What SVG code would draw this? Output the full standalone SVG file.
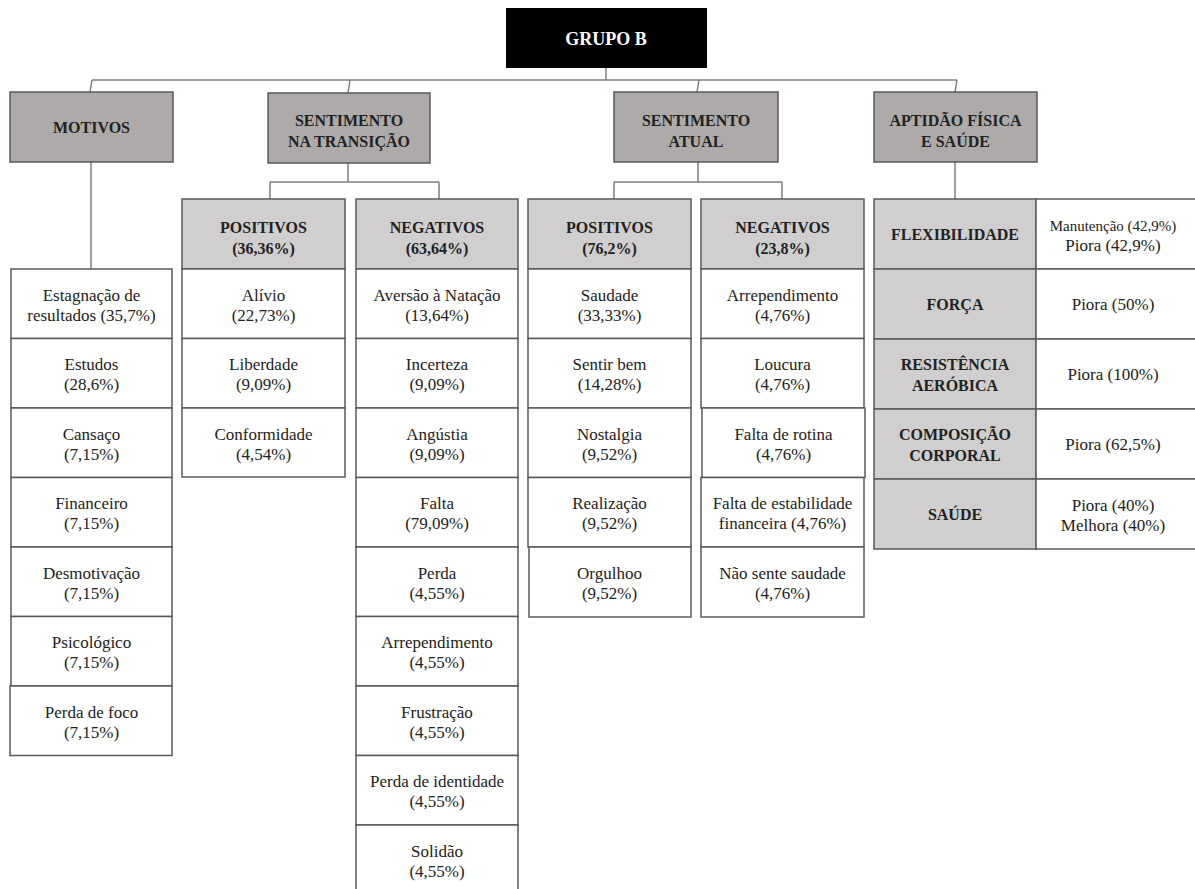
<svg xmlns="http://www.w3.org/2000/svg" width="1195" height="889" viewBox="0 0 1195 889" font-family="'Liberation Serif', 'DejaVu Serif', serif">
<style>
text{font-family:'Liberation Serif','DejaVu Serif',serif;fill:#222;text-anchor:middle}
.h{font-weight:bold;font-size:16px}
.b{font-size:17px}
.s{font-size:15px}
.top{fill:#aeaaaa;stroke:#595959;stroke-width:1.5}
.sub{fill:#d0cece;stroke:#595959;stroke-width:1.5}
.cell{fill:#fff;stroke:#595959;stroke-width:1.5}
.con{fill:none;stroke:#7f7f7f;stroke-width:1.5}
</style>
<rect width="1195" height="889" fill="#fff"/>
<g id="connectors">
<path class="con" d="M606 68V80M92 80H957M92 80L90 92M350 80L348 93M699 80L697 92M957 80L955 92"/>
<path class="con" d="M91 162V269" stroke="#555"/>
<path class="con" d="M348 163V182M270 182H439M270 182V199M439 182V199"/>
<path class="con" d="M698 162V182M614 182H782M614 182V199M782 182V199"/>
<path class="con" d="M955 162V199" stroke="#333"/>
</g>
<g id="grupo-b">
<rect x="506" y="8" width="201" height="60" fill="#000"/>
<text x="606" y="45" style="font-weight:bold;font-size:18px;fill:#fff">GRUPO B</text>
</g>
<g id="motivos">
<rect class="top" x="10" y="92" width="163" height="70"/>
<text class="h" x="91.5" y="133">MOTIVOS</text>
</g>
<g id="sentimento-transicao">
<rect class="top" x="268" y="93" width="162" height="70"/>
<text class="h" x="349" y="126">SENTIMENTO</text>
<text class="h" x="349" y="147">NA TRANSIÇÃO</text>
</g>
<g id="sentimento-atual">
<rect class="top" x="614" y="92" width="164" height="70"/>
<text class="h" x="696" y="126">SENTIMENTO</text>
<text class="h" x="696" y="147">ATUAL</text>
</g>
<g id="aptidao">
<rect class="top" x="874" y="92" width="163" height="70"/>
<text class="h" x="955.5" y="126">APTIDÃO  FÍSICA</text>
<text class="h" x="955.5" y="147">E SAÚDE</text>
</g>
<g id="motivos-lista">
<rect class="cell" x="11" y="269" width="161" height="69.5"/>
<rect class="cell" x="11" y="338.5" width="161" height="69.5"/>
<rect class="cell" x="11" y="408" width="161" height="69.5"/>
<rect class="cell" x="11" y="477.5" width="161" height="69.5"/>
<rect class="cell" x="11" y="547" width="161" height="69.5"/>
<rect class="cell" x="11" y="616.5" width="161" height="69.5"/>
<rect class="cell" x="10" y="686" width="162" height="69.5"/>
<text class="b" x="91.5" y="300.75">Estagnação de</text>
<text class="b" x="91.5" y="320.75">resultados (35,7%)</text>
<text class="b" x="91.5" y="370.25">Estudos</text>
<text class="b" x="91.5" y="390.25">(28,6%)</text>
<text class="b" x="91.5" y="439.75">Cansaço</text>
<text class="b" x="91.5" y="459.75">(7,15%)</text>
<text class="b" x="91.5" y="509.25">Financeiro</text>
<text class="b" x="91.5" y="529.25">(7,15%)</text>
<text class="b" x="91.5" y="578.75">Desmotivação</text>
<text class="b" x="91.5" y="598.75">(7,15%)</text>
<text class="b" x="91.5" y="648.25">Psicológico</text>
<text class="b" x="91.5" y="668.25">(7,15%)</text>
<text class="b" x="91.5" y="717.75">Perda de foco</text>
<text class="b" x="91.5" y="737.75">(7,15%)</text>
</g>
<g id="st-positivos">
<rect class="sub" x="182" y="199" width="163" height="70"/>
<text class="h" x="263.5" y="233">POSITIVOS</text>
<text class="h" x="263.5" y="254">(36,36%)</text>
<rect class="cell" x="182" y="269" width="163" height="69.5"/>
<rect class="cell" x="182" y="338.5" width="163" height="69.5"/>
<rect class="cell" x="182" y="408" width="163" height="69"/>
<text class="b" x="263.5" y="300.75">Alívio</text>
<text class="b" x="263.5" y="320.75">(22,73%)</text>
<text class="b" x="263.5" y="370.25">Liberdade</text>
<text class="b" x="263.5" y="390.25">(9,09%)</text>
<text class="b" x="263.5" y="439.75">Conformidade</text>
<text class="b" x="263.5" y="459.75">(4,54%)</text>
</g>
<g id="st-negativos">
<rect class="sub" x="356" y="199" width="162" height="70"/>
<text class="h" x="437" y="233">NEGATIVOS</text>
<text class="h" x="437" y="254">(63,64%)</text>
<rect class="cell" x="356" y="269" width="162" height="69.5"/>
<rect class="cell" x="356" y="338.5" width="162" height="69.5"/>
<rect class="cell" x="356" y="408" width="162" height="69.5"/>
<rect class="cell" x="356" y="477.5" width="162" height="69.5"/>
<rect class="cell" x="356" y="547" width="162" height="69.5"/>
<rect class="cell" x="356" y="616.5" width="162" height="69.5"/>
<rect class="cell" x="356" y="686" width="162" height="69.5"/>
<rect class="cell" x="356" y="755.5" width="162" height="69.5"/>
<rect class="cell" x="356" y="825" width="162" height="75"/>
<text class="b" x="437" y="300.75">Aversão à Natação</text>
<text class="b" x="437" y="320.75">(13,64%)</text>
<text class="b" x="437" y="370.25">Incerteza</text>
<text class="b" x="437" y="390.25">(9,09%)</text>
<text class="b" x="437" y="439.75">Angústia</text>
<text class="b" x="437" y="459.75">(9,09%)</text>
<text class="b" x="437" y="509.25">Falta</text>
<text class="b" x="437" y="529.25">(79,09%)</text>
<text class="b" x="437" y="578.75">Perda</text>
<text class="b" x="437" y="598.75">(4,55%)</text>
<text class="b" x="437" y="648.25">Arrependimento</text>
<text class="b" x="437" y="668.25">(4,55%)</text>
<text class="b" x="437" y="717.75">Frustração</text>
<text class="b" x="437" y="737.75">(4,55%)</text>
<text class="b" x="437" y="787.25">Perda de identidade</text>
<text class="b" x="437" y="807.25">(4,55%)</text>
<text class="b" x="437" y="856.75">Solidão</text>
<text class="b" x="437" y="876.75">(4,55%)</text>
</g>
<g id="sa-positivos">
<rect class="sub" x="528" y="199" width="163" height="70"/>
<text class="h" x="609.5" y="233">POSITIVOS</text>
<text class="h" x="609.5" y="254">(76,2%)</text>
<rect class="cell" x="528" y="269" width="163" height="69.5"/>
<rect class="cell" x="528" y="338.5" width="163" height="69.5"/>
<rect class="cell" x="528" y="408" width="163" height="69.5"/>
<rect class="cell" x="528" y="477.5" width="163" height="69.5"/>
<rect class="cell" x="529" y="547" width="162" height="70"/>
<text class="b" x="609.5" y="300.75">Saudade</text>
<text class="b" x="609.5" y="320.75">(33,33%)</text>
<text class="b" x="609.5" y="370.25">Sentir bem</text>
<text class="b" x="609.5" y="390.25">(14,28%)</text>
<text class="b" x="609.5" y="439.75">Nostalgia</text>
<text class="b" x="609.5" y="459.75">(9,52%)</text>
<text class="b" x="609.5" y="509.25">Realização</text>
<text class="b" x="609.5" y="529.25">(9,52%)</text>
<text class="b" x="609.5" y="578.75">Orgulhoo</text>
<text class="b" x="609.5" y="598.75">(9,52%)</text>
</g>
<g id="sa-negativos">
<rect class="sub" x="701" y="199" width="163" height="70"/>
<text class="h" x="782.5" y="233">NEGATIVOS</text>
<text class="h" x="782.5" y="254">(23,8%)</text>
<rect class="cell" x="701" y="269" width="163" height="69.5"/>
<rect class="cell" x="701" y="338.5" width="163" height="69.5"/>
<rect class="cell" x="702" y="408" width="163" height="69.5"/>
<rect class="cell" x="701" y="477.5" width="163" height="69.5"/>
<rect class="cell" x="701" y="547" width="163" height="70"/>
<text class="b" x="782.5" y="300.75">Arrependimento</text>
<text class="b" x="782.5" y="320.75">(4,76%)</text>
<text class="b" x="782.5" y="370.25">Loucura</text>
<text class="b" x="782.5" y="390.25">(4,76%)</text>
<text class="b" x="783.5" y="439.75">Falta de rotina</text>
<text class="b" x="783.5" y="459.75">(4,76%)</text>
<text class="b" x="782.5" y="509.25">Falta de estabilidade</text>
<text class="b" x="782.5" y="529.25">financeira (4,76%)</text>
<text class="b" x="782.5" y="578.75">Não sente saudade</text>
<text class="b" x="782.5" y="598.75">(4,76%)</text>
</g>
<g id="aptidao-tabela">
<rect class="sub" x="874" y="199" width="162" height="70"/>
<rect class="sub" x="874" y="269" width="162" height="70"/>
<rect class="sub" x="874" y="339" width="162" height="70"/>
<rect class="sub" x="874" y="409" width="162" height="70"/>
<rect class="sub" x="874" y="479" width="162" height="70"/>
<rect class="cell" x="1036" y="199" width="162" height="70"/>
<rect class="cell" x="1036" y="269" width="162" height="70"/>
<rect class="cell" x="1036" y="339" width="162" height="70"/>
<rect class="cell" x="1036" y="409" width="162" height="70"/>
<rect class="cell" x="1036" y="479" width="162" height="70"/>
<text class="h" x="955" y="240">FLEXIBILIDADE</text>
<text class="h" x="955" y="310">FORÇA</text>
<text class="h" x="955" y="370">RESISTÊNCIA</text>
<text class="h" x="955" y="391">AERÓBICA</text>
<text class="h" x="955" y="440">COMPOSIÇÃO</text>
<text class="h" x="955" y="461">CORPORAL</text>
<text class="h" x="955" y="520">SAÚDE</text>
<text class="s" x="1113" y="231">Manutenção  (42,9%)</text>
<text class="b" x="1113" y="251">Piora (42,9%)</text>
<text class="b" x="1113" y="310">Piora (50%)</text>
<text class="b" x="1113" y="380">Piora (100%)</text>
<text class="b" x="1113" y="450">Piora (62,5%)</text>
<text class="b" x="1113" y="511">Piora (40%)</text>
<text class="b" x="1113" y="531">Melhora (40%)</text>
</g>
</svg>
